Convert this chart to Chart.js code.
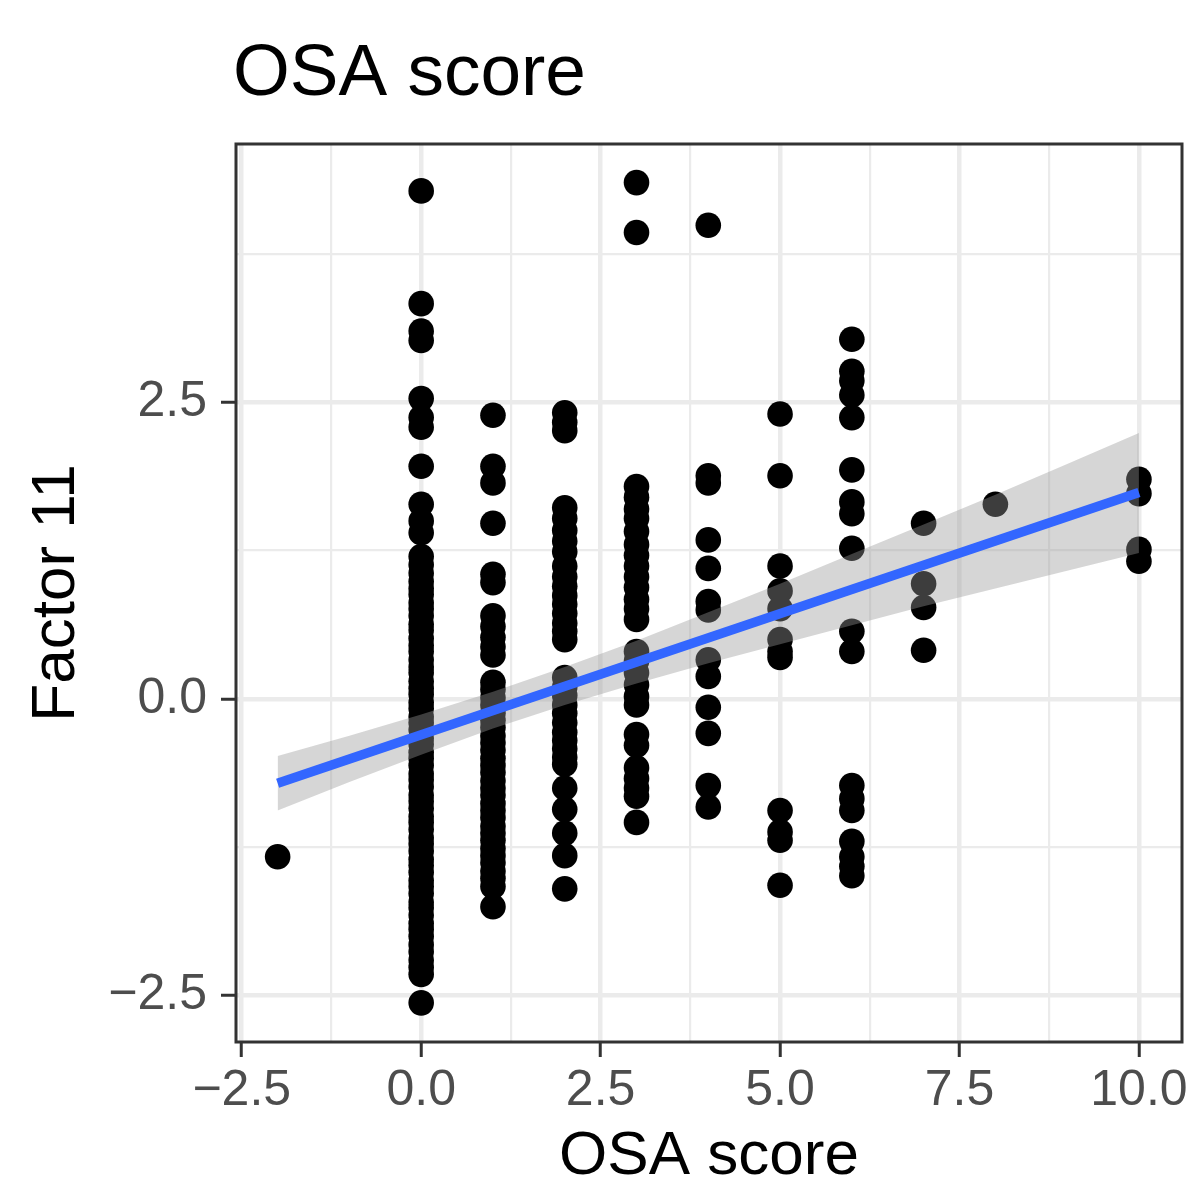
<!DOCTYPE html>
<html>
<head>
<meta charset="utf-8">
<title>OSA score</title>
<script src="https://cdn.jsdelivr.net/npm/chart.js@4.4.1/dist/chart.umd.min.js"></script>
<style>
	html, body { margin: 0; padding: 0; background: #fff; }
	canvas { display: block; }
</style>
</head>
<body>
<canvas id="graficoOsa" width="1195" height="1181"></canvas>
<script>
var osaLevels = [-2, 0, 1, 2, 3, 4, 5, 6, 7, 8, 10];

var factorAtMinus2 = [-1.33];
var factorAt0 = [4.28, 3.33, 3.10, 3.02, 2.53, 2.37, 2.29, 1.96, 1.64, 1.50, 1.40, 1.20, 1.13,
	1.06, 0.99, 0.93, 0.88, 0.81, 0.76, 0.70, 0.63, 0.58, 0.51, 0.45, 0.40, 0.33, 0.27, 0.22,
	0.15, 0.09, 0.04, -0.03, -0.08, -0.15, -0.20, -0.26, -0.33, -0.38, -0.45, -0.50, -0.56,
	-0.63, -0.68, -0.74, -0.81, -0.86, -0.92, -0.99, -1.04, -1.10, -1.17, -1.22, -1.28, -1.35,
	-1.40, -1.46, -1.53, -1.58, -1.64, -1.71, -1.76, -1.82, -1.89, -1.94, -2.00, -2.07, -2.13,
	-2.20, -2.26, -2.32, -2.56];
var factorAt1 = [2.39, 1.96, 1.82, 1.48, 1.05, 0.98, 0.70, 0.61, 0.52, 0.44, 0.37, 0.14, 0.08,
	0.01, -0.05, -0.12, -0.18, -0.24, -0.31, -0.37, -0.43, -0.50, -0.56, -0.62, -0.69, -0.75,
	-0.81, -0.88, -0.94, -1.00, -1.07, -1.13, -1.19, -1.26, -1.32, -1.38, -1.45, -1.51, -1.58, -1.75];
var factorAt2 = [2.41, 2.33, 2.26, 1.61, 1.52, 1.42, 1.33, 1.24, 1.12, 1.03, 0.95, 0.87, 0.80,
	0.72, 0.64, 0.57, 0.50, 0.18, 0.10, 0.03, -0.05, -0.12, -0.20, -0.28, -0.35, -0.42, -0.49,
	-0.55, -0.75, -0.93, -1.13, -1.32, -1.60];
var factorAt3 = [4.35, 3.93, 1.79, 1.70, 1.60, 1.52, 1.41, 1.30, 1.21, 1.12, 1.03, 0.94, 0.84,
	0.76, 0.67, 0.40, 0.32, 0.22, 0.12, 0.02, -0.05, -0.30, -0.39, -0.58, -0.67, -0.75, -0.82, -1.04];
var factorAt4 = [3.99, 1.88, 1.82, 1.34, 1.10, 0.82, 0.75, 0.33, 0.19, -0.07, -0.29, -0.73, -0.91];
var factorAt5 = [2.40, 1.88, 1.12, 0.91, 0.76, 0.50, 0.40, 0.35, -0.94, -1.12, -1.19, -1.57];
var factorAt6 = [3.03, 2.76, 2.68, 2.56, 2.37, 1.93, 1.66, 1.56, 1.27, 0.57, 0.40, -0.73, -0.84,
	-0.94, -1.20, -1.33, -1.41, -1.49];
var factorAt7 = [1.48, 0.97, 0.77, 0.41];
var factorAt8 = [1.64];
var factorAt10 = [1.85, 1.73, 1.26, 1.16];

var factorByLevel = [factorAtMinus2, factorAt0, factorAt1, factorAt2, factorAt3, factorAt4,
	factorAt5, factorAt6, factorAt7, factorAt8, factorAt10];

// linear fit and its confidence band
var fitX = [-2, 10];
var fitY = [-0.71, 1.74];
var bandX = [-2, -1, 0, 1, 2, 3, 4, 5, 6, 7, 8, 9, 10];
var bandLow = [-0.94, -0.70, -0.47, -0.25, -0.05, 0.13, 0.30, 0.46, 0.62, 0.78, 0.93, 1.08, 1.23];
var bandHigh = [-0.48, -0.31, -0.13, 0.06, 0.27, 0.49, 0.73, 0.97, 1.22, 1.47, 1.72, 1.98, 2.24];

var xMajorTicks = [-2.5, 0, 2.5, 5, 7.5, 10];
var xMinorTicks = [-1.25, 1.25, 3.75, 6.25, 8.75];
var yMajorTicks = [-2.5, 0, 2.5];
var yMinorTicks = [-1.25, 1.25, 3.75];

var fonte = '"Liberation Sans", Arial, Helvetica, sans-serif';
Chart.defaults.font.family = fonte;

function pares(xs, ys) {
	return xs.map(function(x, i) {
		return { x: x, y: ys[i] };
	});
}

function pontosOsa() {
	var pontos = [];
	osaLevels.forEach(function(nivel, i) {
		factorByLevel[i].forEach(function(v) {
			pontos.push({ x: nivel, y: v });
		});
	});
	return pontos;
}

function montarTicks(majors, minors) {
	return function(scale) {
		scale.ticks = majors.concat(minors).sort(function(a, b) { return a - b; })
			.map(function(v) { return { value: v }; });
	};
}

function rotulo(majors) {
	return function(value) {
		if (majors.indexOf(value) < 0) return '';
		return value.toFixed(1).replace('-', '\u2212');
	};
}

function grade(majors) {
	return {
		color: '#ebebeb',
		lineWidth: function(ctx) {
			return ctx.tick && majors.indexOf(ctx.tick.value) >= 0 ? 4.5 : 2.2;
		},
		drawTicks: true,
		tickLength: 15,
		tickWidth: 3,
		tickColor: function(ctx) {
			return ctx.tick && majors.indexOf(ctx.tick.value) >= 0 ? '#333333' : 'rgba(0,0,0,0)';
		}
	};
}

var bordaPainel = {
	id: 'bordaPainel',
	afterDatasetsDraw: function(chart) {
		var a = chart.chartArea;
		var ctx = chart.ctx;
		ctx.save();
		ctx.strokeStyle = '#333333';
		ctx.lineWidth = 3;
		ctx.strokeRect(a.left, a.top, a.right - a.left, a.bottom - a.top);
		ctx.restore();
	}
};

var tituloOsa = {
	id: 'tituloOsa',
	afterDraw: function(chart) {
		var ctx = chart.ctx;
		ctx.save();
		ctx.font = '73px ' + fonte;
		ctx.fillStyle = '#000000';
		ctx.textBaseline = 'alphabetic';
		ctx.textAlign = 'left';
		ctx.fillText('OSA score', chart.chartArea.left - 3, chart.chartArea.top - 49);
		ctx.restore();
	}
};

var grafico = new Chart(document.getElementById('graficoOsa').getContext('2d'), {
	type: 'scatter',
	data: {
		datasets: [{
			type: 'line',
			label: 'ajuste',
			data: pares(fitX, fitY),
			borderColor: '#3366FF',
			borderWidth: 9.5,
			borderCapStyle: 'butt',
			pointRadius: 0,
			fill: false,
			order: 0
		}, {
			type: 'line',
			label: 'ic superior',
			data: pares(bandX, bandHigh),
			borderWidth: 0,
			borderColor: 'rgba(0,0,0,0)',
			backgroundColor: 'rgba(153,153,153,0.4)',
			pointRadius: 0,
			fill: '+1',
			order: 1
		}, {
			type: 'line',
			label: 'ic inferior',
			data: pares(bandX, bandLow),
			borderWidth: 0,
			borderColor: 'rgba(0,0,0,0)',
			pointRadius: 0,
			fill: false,
			order: 1
		}, {
			label: 'Factor 11',
			data: pontosOsa(),
			backgroundColor: '#000000',
			borderWidth: 0,
			pointRadius: 12.8,
			order: 2
		}]
	},
	options: {
		responsive: false,
		animation: false,
		events: [],
		layout: { padding: { top: 144, right: 13, bottom: 0, left: 0 } },
		plugins: {
			legend: { display: false },
			tooltip: { enabled: false }
		},
		scales: {
			x: {
				type: 'linear',
				min: -2.58,
				max: 10.6,
				afterBuildTicks: montarTicks(xMajorTicks, xMinorTicks),
				afterFit: function(scale) { scale.height = 139; },
				grid: grade(xMajorTicks),
				border: { display: false },
				ticks: {
					color: '#4d4d4d',
					font: { size: 50 },
					padding: 4,
					autoSkip: false,
					maxRotation: 0,
					callback: rotulo(xMajorTicks)
				},
				title: {
					display: true,
					text: 'OSA score',
					color: '#000000',
					font: { size: 62, lineHeight: 0.75 },
					padding: { top: 0, bottom: 1 }
				}
			},
			y: {
				type: 'linear',
				min: -2.89,
				max: 4.675,
				afterBuildTicks: montarTicks(yMajorTicks, yMinorTicks),
				afterFit: function(scale) { scale.width = 236; },
				grid: grade(yMajorTicks),
				border: { display: false },
				ticks: {
					color: '#4d4d4d',
					font: { size: 50 },
					padding: 14,
					autoSkip: false,
					callback: rotulo(yMajorTicks)
				},
				title: {
					display: true,
					text: 'Factor 11',
					color: '#000000',
					font: { size: 62 },
					padding: { top: 20, bottom: 0 }
				}
			}
		}
	},
	plugins: [bordaPainel, tituloOsa]
});
</script>
</body>
</html>
